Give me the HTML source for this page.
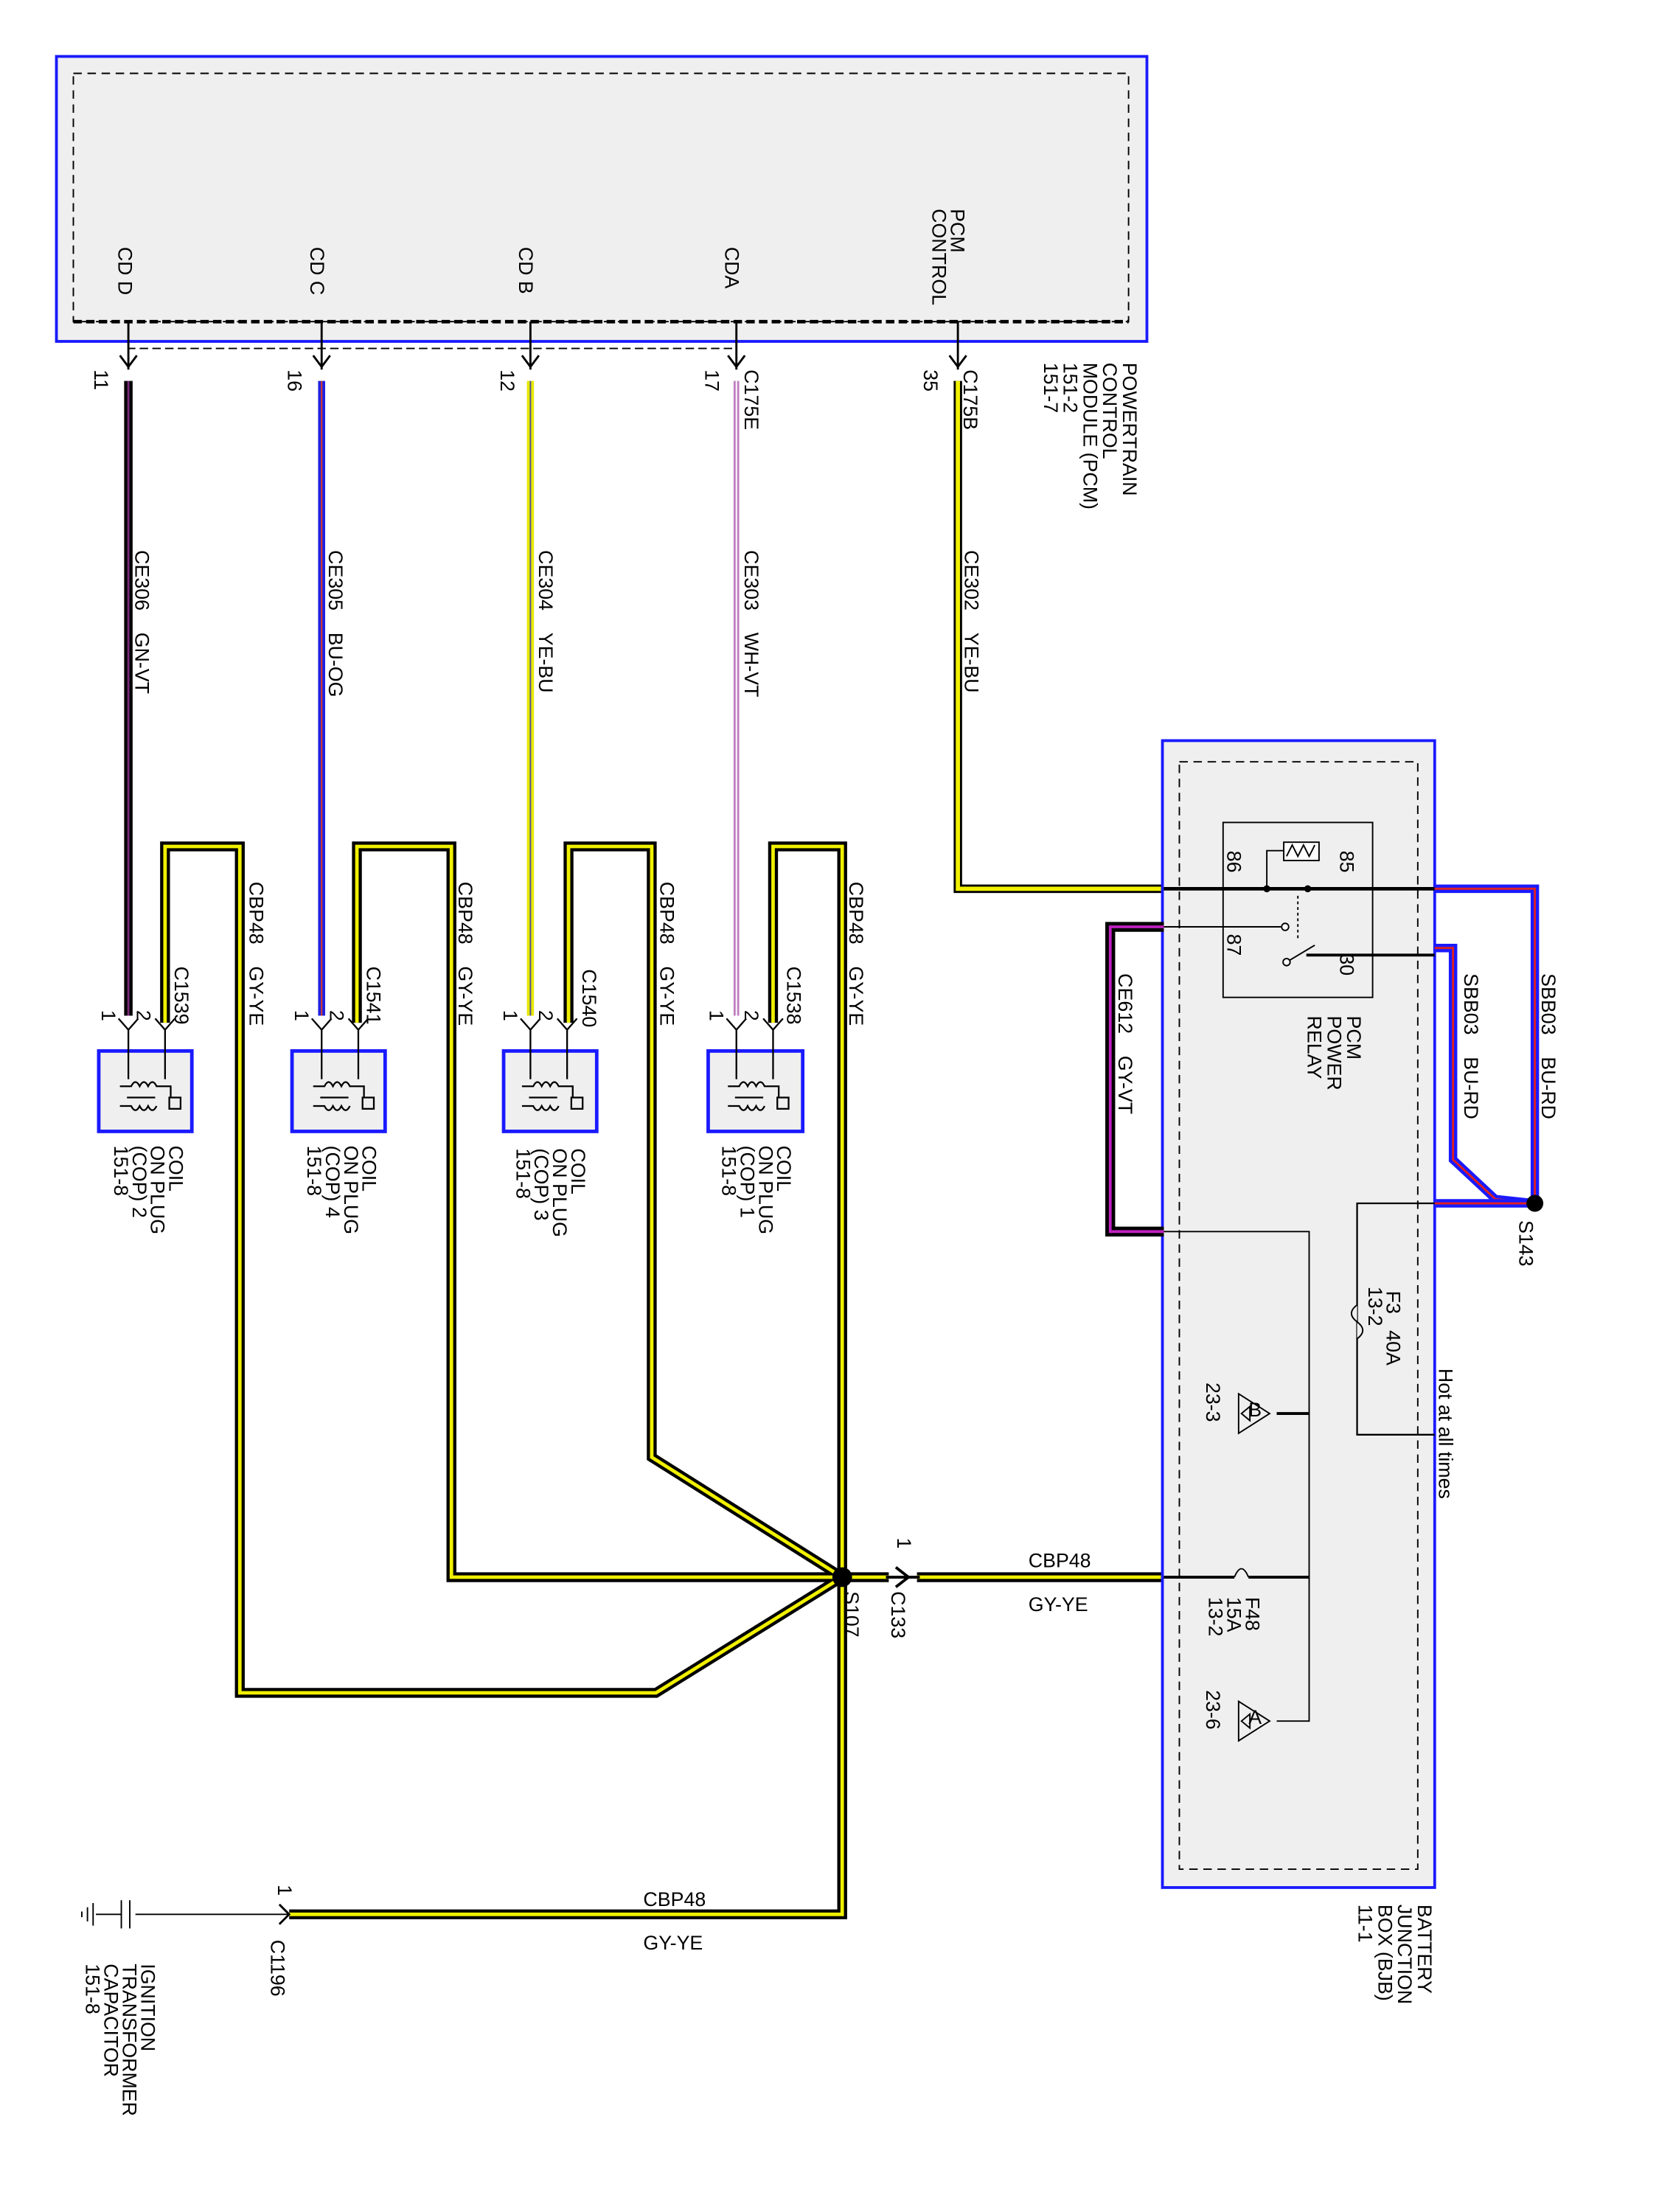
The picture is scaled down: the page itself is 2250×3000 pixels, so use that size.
<!DOCTYPE html>
<html><head><meta charset="utf-8"><style>html,body{margin:0;padding:0;background:#fff}svg{display:block}text{font-family:"Liberation Sans",sans-serif;font-size:14px;fill:#000}</style></head><body>
<svg width="2250" height="3000" viewBox="0 0 1176 1568" preserveAspectRatio="none" xmlns="http://www.w3.org/2000/svg">
<rect x="40" y="40" width="773" height="202" fill="#efefef" stroke="#1a1aff" stroke-width="2"/>
<rect x="52" y="52" width="748" height="176" fill="none" stroke="#000" stroke-dasharray="6,4"/>
<line x1="52" y1="228" x2="800" y2="228" stroke="#000" stroke-width="2.5" stroke-dasharray="6,3"/>
<polyline points="91,228 91,247 522,247 522,228" fill="none" stroke="#000" stroke-dasharray="6,3"/>
<g fill="none" stroke="#000" stroke-width="1.5">
<line x1="91" y1="228" x2="91" y2="262"/><line x1="228" y1="228" x2="228" y2="262"/><line x1="376" y1="228" x2="376" y2="262"/><line x1="522" y1="228" x2="522" y2="262"/><line x1="679" y1="228" x2="679" y2="262"/>
<polyline points="85,252 91,260 97,252"/><polyline points="222,252 228,260 234,252"/><polyline points="370,252 376,260 382,252"/><polyline points="516,252 522,260 528,252"/><polyline points="673,252 679,260 685,252"/>
</g>
<line x1="91" y1="270" x2="91" y2="720" stroke="#000" stroke-width="6"/><line x1="91" y1="270" x2="91" y2="720" stroke="#7a2a7a" stroke-width="1.5"/>
<line x1="228" y1="270" x2="228" y2="720" stroke="#2020e0" stroke-width="5"/><line x1="228" y1="270" x2="228" y2="720" stroke="#e04020" stroke-width="1"/>
<line x1="376" y1="270" x2="376" y2="720" stroke="#e8e800" stroke-width="5"/><line x1="376" y1="270" x2="376" y2="720" stroke="#5050a0" stroke-width="1"/>
<line x1="522" y1="270" x2="522" y2="720" stroke="#c080c0" stroke-width="4"/><line x1="522" y1="270" x2="522" y2="720" stroke="#fff" stroke-width="1"/>
<polyline points="679,270 679,630 825,630" fill="none" stroke="#000" stroke-width="6"/><polyline points="679,270 679,630 825,630" fill="none" stroke="#f0f000" stroke-width="3"/>
<g fill="none" stroke-linejoin="miter">
<g stroke="#000" stroke-width="7">
<polyline points="117,725 117,600 170,600 170,1200 465,1200 597,1118"/>
<polyline points="253,725 253,600 320,600 320,1118 597,1118"/>
<polyline points="403,725 403,600 462,600 462,1033 597,1118"/>
<polyline points="548,725 548,600 597,600 597,1357 205,1357"/>
<line x1="597" y1="1118" x2="630" y2="1118"/><line x1="650" y1="1118" x2="825" y2="1118"/>
</g>
<g stroke="#f0f000" stroke-width="2.5">
<polyline points="117,725 117,600 170,600 170,1200 465,1200 597,1118"/>
<polyline points="253,725 253,600 320,600 320,1118 597,1118"/>
<polyline points="403,725 403,600 462,600 462,1033 597,1118"/>
<polyline points="548,725 548,600 597,600 597,1357 205,1357"/>
<line x1="597" y1="1118" x2="630" y2="1118"/><line x1="650" y1="1118" x2="825" y2="1118"/>
</g></g>
<circle cx="597" cy="1118" r="7" fill="#000"/>
<line x1="628" y1="1118" x2="652" y2="1118" stroke="#000" stroke-width="2"/>
<polyline points="635,1111 644,1118 635,1125" fill="none" stroke="#000" stroke-width="2"/>
<polyline points="198,1350 205,1357 198,1364" fill="none" stroke="#000" stroke-width="1.5"/>
<line x1="96" y1="1357" x2="205" y2="1357" stroke="#000"/>
<g stroke="#000"><line x1="86" y1="1347" x2="86" y2="1367"/><line x1="92" y1="1347" x2="92" y2="1367"/><line x1="68" y1="1357" x2="86" y2="1357"/><line x1="66" y1="1349" x2="66" y2="1365"/><line x1="62" y1="1352" x2="62" y2="1362"/><line x1="58" y1="1355" x2="58" y2="1359"/></g>
<g fill="#efefef" stroke="#1a1aff" stroke-width="2.5">
<rect x="70" y="745" width="66" height="57"/><rect x="207" y="745" width="66" height="57"/><rect x="357" y="745" width="66" height="57"/><rect x="502" y="745" width="67" height="57"/>
</g>
<g fill="none" stroke="#000" stroke-width="1.2">
<g id="c"><polyline points="84,722 91,730 98,722"/><polyline points="110,722 117,730 124,722"/><line x1="91" y1="730" x2="91" y2="765"/><line x1="117" y1="730" x2="117" y2="765"/><path d="M85,770 h8 q3,-6 6,0 q3,-6 6,0 q3,-6 6,0 h10 v8 M90,778 h20 M85,784 h8 q3,6 6,0 q3,6 6,0 q3,6 6,0"/><rect x="120" y="778" width="8" height="8"/></g>
<use href="#c" x="137"/><use href="#c" x="285"/><use href="#c" x="431"/>
</g>
<rect x="824" y="525" width="193" height="813" fill="#efefef" stroke="#1a1aff" stroke-width="2"/>
<rect x="836" y="540" width="169" height="785" fill="none" stroke="#000" stroke-dasharray="6,4"/>
<rect x="867" y="583" width="106" height="124" fill="none" stroke="#000"/>
<line x1="825" y1="630" x2="1017" y2="630" stroke="#000" stroke-width="2.5"/>
<rect x="910" y="597" width="25" height="13" fill="#fff" stroke="#000"/>
<path d="M912,607 l4,-8 l4,8 l4,-8 l4,8 l4,-8" fill="none" stroke="#000"/>
<polyline points="898,630 898,603 910,603 M935,603 947,603 947,630" fill="none" stroke="#000"/>
<circle cx="898" cy="630" r="2.5"/><circle cx="927" cy="630" r="2.5"/>
<line x1="920" y1="635" x2="920" y2="665" stroke="#000" stroke-dasharray="2,2"/>
<line x1="825" y1="657" x2="908" y2="657" stroke="#000"/><circle cx="911" cy="657" r="2.5" fill="#fff" stroke="#000"/>
<line x1="912" y1="682" x2="932" y2="670" stroke="#000"/><circle cx="912" cy="682" r="2.5" fill="#fff" stroke="#000"/>
<line x1="926" y1="677" x2="1017" y2="677" stroke="#000" stroke-width="2"/>
<g fill="none"><polyline points="1017,630 1088,630 1088,853" stroke="#1a1aff" stroke-width="6"/><polyline points="1017,630 1088,630 1088,853" stroke="#e02020" stroke-width="1.5"/>
<polyline points="1017,672 1030,672 1030,822 1060,850 1088,853" stroke="#1a1aff" stroke-width="6"/><polyline points="1017,672 1030,672 1030,822 1060,850 1088,853" stroke="#e02020" stroke-width="1.5"/>
<polyline points="1017,853 1088,853" stroke="#1a1aff" stroke-width="6"/><line x1="1017" y1="853" x2="1088" y2="853" stroke="#e02020" stroke-width="1.5"/>
<polyline points="825,657 787,657 787,873 825,873" stroke="#000" stroke-width="7"/><polyline points="825,657 787,657 787,873 825,873" stroke="#c020c0" stroke-width="2"/>
</g>
<circle cx="1088" cy="853" r="6" fill="#000"/>
<g fill="none" stroke="#000">
<polyline points="1017,853 962,853 962,1017 1017,1017" stroke-width="1.2"/>
<path d="M962,925 q-8,6 0,12 q8,6 0,12" fill="#efefef"/>
<polyline points="825,873 928,873 928,1220 905,1220"/>
<line x1="928" y1="1002" x2="905" y2="1002" stroke-width="2"/>
<path d="M878,988 l22,14 l-22,14 z M880,1002 l6,-5 l0,10 z"/>
<path d="M878,1206 l22,14 l-22,14 z M880,1220 l6,-5 l0,10 z"/>
<line x1="825" y1="1118" x2="875" y2="1118" stroke-width="2"/><line x1="885" y1="1118" x2="928" y2="1118" stroke-width="2"/>
<path d="M875,1118 q5,-12 10,0" />
</g>
<g>
<text transform="translate(84,175) rotate(90)">CD D</text>
<text transform="translate(220,175) rotate(90)">CD C</text>
<text transform="translate(368,175) rotate(90)">CD B</text>
<text transform="translate(514,175) rotate(90)">CDA</text>
<text transform="translate(674,148) rotate(90)">PCM</text>
<text transform="translate(661,148) rotate(90)">CONTROL</text>
<text transform="translate(67,262) rotate(90)">11</text>
<text transform="translate(204,262) rotate(90)">16</text>
<text transform="translate(355,262) rotate(90)">12</text>
<text transform="translate(500,262) rotate(90)">17</text>
<text transform="translate(655,262) rotate(90)">35</text>
<text transform="translate(528,262) rotate(90)">C175E</text>
<text transform="translate(683,262) rotate(90)">C175B</text>
<text transform="translate(796,257) rotate(90)">POWERTRAIN</text>
<text transform="translate(782,257) rotate(90)">CONTROL</text>
<text transform="translate(768,257) rotate(90)">MODULE (PCM)</text>
<text transform="translate(754,257) rotate(90)">151-2</text>
<text transform="translate(740,257) rotate(90)">151-7</text>
<text transform="translate(96,390) rotate(90)">CE306&#160;&#160;&#160;&#160;GN-VT</text>
<text transform="translate(233,390) rotate(90)">CE305&#160;&#160;&#160;&#160;BU-OG</text>
<text transform="translate(382,390) rotate(90)">CE304&#160;&#160;&#160;&#160;YE-BU</text>
<text transform="translate(528,390) rotate(90)">CE303&#160;&#160;&#160;&#160;WH-VT</text>
<text transform="translate(684,390) rotate(90)">CE302&#160;&#160;&#160;&#160;YE-BU</text>
<text transform="translate(177,625) rotate(90)">CBP48&#160;&#160;&#160;&#160;GY-YE</text>
<text transform="translate(325,625) rotate(90)">CBP48&#160;&#160;&#160;&#160;GY-YE</text>
<text transform="translate(468,625) rotate(90)">CBP48&#160;&#160;&#160;&#160;GY-YE</text>
<text transform="translate(602,625) rotate(90)">CBP48&#160;&#160;&#160;&#160;GY-YE</text>
<text transform="translate(124,685) rotate(90)">C1539</text>
<text transform="translate(260,685) rotate(90)">C1541</text>
<text transform="translate(413,687) rotate(90)">C1540</text>
<text transform="translate(558,685) rotate(90)">C1538</text>
<text transform="translate(72,716) rotate(90)">1</text><text transform="translate(97,716) rotate(90)">2</text>
<text transform="translate(209,716) rotate(90)">1</text><text transform="translate(234,716) rotate(90)">2</text>
<text transform="translate(357,716) rotate(90)">1</text><text transform="translate(382,716) rotate(90)">2</text>
<text transform="translate(503,716) rotate(90)">1</text><text transform="translate(528,716) rotate(90)">2</text>
<text transform="translate(120,812) rotate(90)">COIL</text><text transform="translate(107,812) rotate(90)">ON PLUG</text><text transform="translate(94,812) rotate(90)">(COP) 2</text><text transform="translate(81,812) rotate(90)">151-8</text>
<text transform="translate(257,812) rotate(90)">COIL</text><text transform="translate(244,812) rotate(90)">ON PLUG</text><text transform="translate(231,812) rotate(90)">(COP) 4</text><text transform="translate(218,812) rotate(90)">151-8</text>
<text transform="translate(405,814) rotate(90)">COIL</text><text transform="translate(392,814) rotate(90)">ON PLUG</text><text transform="translate(379,814) rotate(90)">(COP) 3</text><text transform="translate(366,814) rotate(90)">151-8</text>
<text transform="translate(551,812) rotate(90)">COIL</text><text transform="translate(538,812) rotate(90)">ON PLUG</text><text transform="translate(525,812) rotate(90)">(COP) 1</text><text transform="translate(512,812) rotate(90)">151-8</text>
<text transform="translate(870,603) rotate(90)">86</text>
<text transform="translate(950,603) rotate(90)">85</text>
<text transform="translate(870,662) rotate(90)">87</text>
<text transform="translate(950,676) rotate(90)">30</text>
<text transform="translate(955,720) rotate(90)">PCM</text>
<text transform="translate(941,720) rotate(90)">POWER</text>
<text transform="translate(927,720) rotate(90)">RELAY</text>
<text transform="translate(1093,690) rotate(90)">SBB03&#160;&#160;&#160;&#160;BU-RD</text>
<text transform="translate(1038,690) rotate(90)">SBB03&#160;&#160;&#160;&#160;BU-RD</text>
<text transform="translate(793,690) rotate(90)">CE612&#160;&#160;&#160;&#160;GY-VT</text>
<text transform="translate(1077,865) rotate(90)">S143</text>
<text transform="translate(983,915) rotate(90)">F3&#160;&#160;&#160;40A</text>
<text transform="translate(970,912) rotate(90)">13-2</text>
<text transform="translate(1020,970) rotate(90)">Hot at all times</text>
<text transform="translate(855,980) rotate(90)">23-3</text>
<text transform="translate(855,1198) rotate(90)">23-6</text>
<text transform="translate(883,1132) rotate(90)">F48</text>
<text transform="translate(870,1132) rotate(90)">15A</text>
<text transform="translate(857,1132) rotate(90)">13-2</text>
<text transform="translate(599,1128) rotate(90)">S107</text>
<text transform="translate(632,1128) rotate(90)">C133</text>
<text transform="translate(636,1090) rotate(90)">1</text>
<text transform="translate(192,1375) rotate(90)">C1196</text>
<text transform="translate(197,1336) rotate(90)">1</text>
<text transform="translate(100,1392) rotate(90)">IGNITION</text>
<text transform="translate(87,1392) rotate(90)">TRANSFORMER</text>
<text transform="translate(74,1392) rotate(90)">CAPACITOR</text>
<text transform="translate(61,1392) rotate(90)">151-8</text>
<text transform="translate(1005,1350) rotate(90)">BATTERY</text>
<text transform="translate(991,1350) rotate(90)">JUNCTION</text>
<text transform="translate(977,1350) rotate(90)">BOX (BJB)</text>
<text transform="translate(963,1350) rotate(90)">11-1</text>
<text x="885" y="1004" font-size="9">B</text>
<text x="885" y="1222" font-size="9">A</text>
</g>
<text x="729" y="1111">CBP48</text><text x="729" y="1142">GY-YE</text>
<text x="456" y="1351">CBP48</text><text x="456" y="1382">GY-YE</text>
</svg>
</body></html>
